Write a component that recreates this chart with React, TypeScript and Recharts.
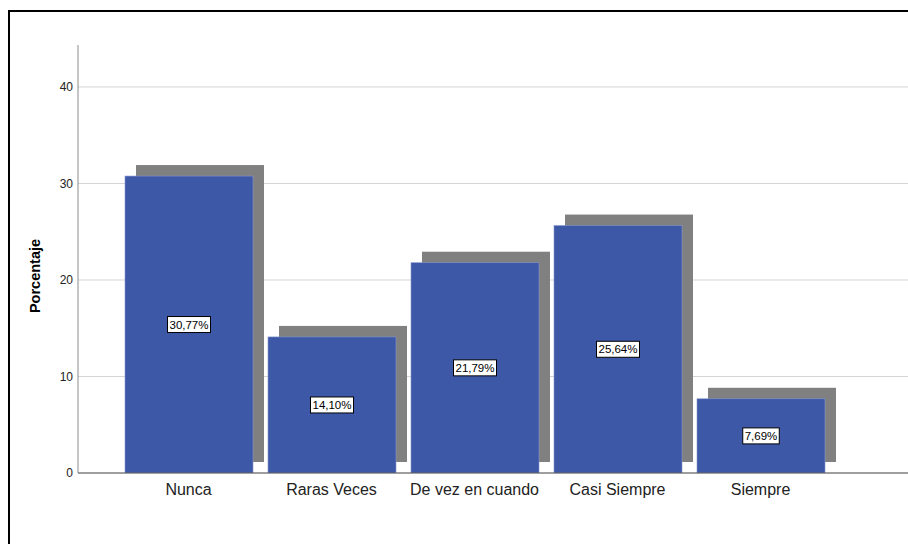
import React from "react";
import {
  Bar,
  BarChart,
  CartesianGrid,
  LabelList,
  XAxis,
  YAxis,
} from "recharts";

const categories = ["Nunca", "Raras Veces", "De vez en cuando", "Casi Siempre", "Siempre"];
const percentages = [30.77, 14.1, 21.79, 25.64, 7.69];
const valueLabels = ["30,77%", "14,10%", "21,79%", "25,64%", "7,69%"];
const yTicks = [0, 10, 20, 30, 40];

const data = categories.map((name, i) => ({
  name,
  value: percentages[i],
  label: valueLabels[i],
}));

const FONT = "'Liberation Sans', Arial, sans-serif";

// the frame runs off the page edges, keep scrollbars away
if (typeof document !== "undefined") {
  document.documentElement.style.overflow = "hidden";
}

// bar with the grey drop shadow behind it
function ShadowBar(props: any) {
  const { x, y, width, height } = props;
  return (
    <g>
      <rect x={x + 11} y={y - 11} width={width} height={height} fill="#808080" />
      <rect
        x={x}
        y={y}
        width={width}
        height={height}
        fill="#3E58A8"
        stroke="#8595cc"
        strokeWidth={0.6}
      />
    </g>
  );
}

function BoxLabel(props: any) {
  const { x, y, width, height, value } = props;
  const cx = x + width / 2;
  const cy = y + height / 2;
  const w = String(value).length * 6.5 + 4;
  return (
    <g>
      <rect
        x={cx - w / 2}
        y={cy - 8}
        width={w}
        height={16}
        fill="#ffffff"
        stroke="#000000"
        strokeWidth={1}
      />
      <text
        x={cx}
        y={cy}
        textAnchor="middle"
        dominantBaseline="central"
        fontSize={11.5}
        fontFamily={FONT}
        fill="#000"
      >
        {value}
      </text>
    </g>
  );
}

export default function App() {
  return (
    <div
      style={{
        position: "absolute",
        left: 8,
        top: 10,
        width: 900,
        height: 534,
        overflow: "hidden",
        borderTop: "2px solid #000",
        borderLeft: "2px solid #000",
        background: "#fff",
      }}
    >
      <BarChart
        width={898}
        height={532}
        data={data}
        margin={{ top: 33, right: 0, left: 0, bottom: 41 }}
      >
        <CartesianGrid
          vertical={false}
          stroke="#d4d4d4"
          horizontalValues={yTicks}
        />

        <XAxis
          dataKey="name"
          height={30}
          padding={{ left: 39, right: 76 }}
          tickLine={false}
          tickSize={0}
          tickMargin={11}
          axisLine={{ stroke: "#555555" }}
          tick={{ fontSize: 16, fill: "#222", fontFamily: FONT }}
        />

        <YAxis
          width={68}
          domain={[0, 44.35]}
          ticks={yTicks}
          allowDataOverflow
          tickLine={false}
          tickSize={0}
          tickMargin={5}
          axisLine={{ stroke: "#8c8c8c" }}
          tick={{ fontSize: 12, fill: "#222", fontFamily: FONT }}
          label={{
            content: () => (
              <text
                x={25}
                y={264}
                transform="rotate(-90 25 264)"
                textAnchor="middle"
                dominantBaseline="central"
                fontSize={14.5}
                fontWeight="bold"
                fontFamily={FONT}
                fill="#000"
              >
                Porcentaje
              </text>
            ),
          }}
        />

        <Bar
          dataKey="value"
          barSize={128}
          shape={<ShadowBar />}
          isAnimationActive={false}
        >
          <LabelList dataKey="label" content={<BoxLabel />} />
        </Bar>
      </BarChart>
    </div>
  );
}
